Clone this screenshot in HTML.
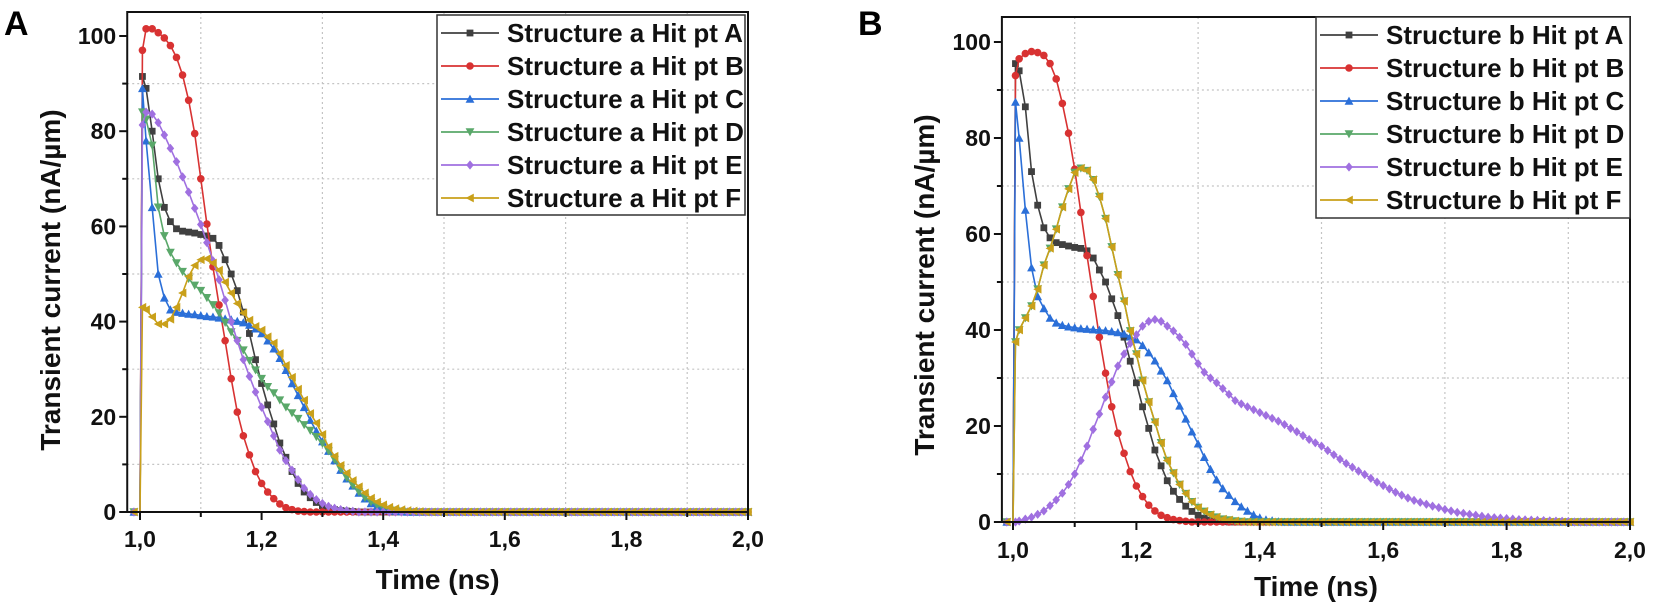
<!DOCTYPE html>
<html><head><meta charset="utf-8"><style>
html,body{margin:0;padding:0;background:#fff;}
svg{display:block;font-family:"Liberation Sans",Arial,sans-serif;}
</style></head><body>
<svg id="fig" width="1658" height="608" viewBox="0 0 1658 608" xmlns="http://www.w3.org/2000/svg">
<rect width="1658" height="608" fill="#fff"/>
</svg>
<script>
// ---- shared time samples (ns) ----
const times = [0.99,1.00,1.004,
1.01,1.02,1.03,1.04,1.05,1.06,1.07,1.08,1.09,1.10,
1.11,1.12,1.13,1.14,1.15,1.16,1.17,1.18,1.19,1.20,
1.21,1.22,1.23,1.24,1.25,1.26,1.27,1.28,1.29,1.30,
1.31,1.32,1.33,1.34,1.35,1.36,1.37,1.38,1.39,1.40,
1.41,1.42,1.43,1.44,1.45,1.46,1.47,1.48,1.49,1.50,
1.51,1.52,1.53,1.54,1.55,1.56,1.57,1.58,1.59,1.60,
1.61,1.62,1.63,1.64,1.65,1.66,1.67,1.68,1.69,1.70,
1.71,1.72,1.73,1.74,1.75,1.76,1.77,1.78,1.79,1.80,
1.81,1.82,1.83,1.84,1.85,1.86,1.87,1.88,1.89,1.90,
1.91,1.92,1.93,1.94,1.95,1.96,1.97,1.98,1.99,2.00];

const xTickLabels = ["1,0","1,2","1,4","1,6","1,8","2,0"];
const xTickValues = [1.0,1.2,1.4,1.6,1.8,2.0];
const yTickValues = [0,20,40,60,80,100];
const hitPoints = ["A","B","C","D","E","F"];

// ---- Panel A series (nA/um) ----
const aHitA = [0,0,91.5, 89,80,70,64,61,59.5,59,58.8,58.6,58.3, 58,57.5,56,53,50,46.5,42,37.5,32,27, 22.5,18.5,14.5,11.5,8.5,6,4.2,3,2,1.3, 0.8,0.5,0.3,0.2,0.1,0,0,0,0,0,
0,0,0,0,0,0,0,0,0,0, 0,0,0,0,0,0,0,0,0,0, 0,0,0,0,0,0,0,0,0,0, 0,0,0,0,0,0,0,0,0,0, 0,0,0,0,0,0,0,0,0,0, 0,0,0,0,0,0,0,0,0,0];
const aHitB = [0,0,97, 101.5,101.5,100.7,99.6,98,95.5,91.8,86.5,79.5,70, 60.5,51.5,43.5,36,28,21,16,12,8.5,6, 4.2,2.8,1.7,0.9,0.5,0.2,0.1,0,0,0, 0,0,0,0,0,0,0,0,0,0,
0,0,0,0,0,0,0,0,0,0, 0,0,0,0,0,0,0,0,0,0, 0,0,0,0,0,0,0,0,0,0, 0,0,0,0,0,0,0,0,0,0, 0,0,0,0,0,0,0,0,0,0, 0,0,0,0,0,0,0,0,0,0];
const aHitC = [0,0,89, 78,64,50,45,42.5,42,41.8,41.6,41.5,41.3, 41.1,41,40.8,40.6,40.4,40.1,39.8,39.3,38.5,37.5, 36,34.3,32.3,29.8,27,24.5,22,19.3,17,14.8, 12.8,10.8,8.8,7,5.5,4,2.8,1.8,1.2,0.7,
0.4,0.2,0.1,0,0,0,0,0,0,0, 0,0,0,0,0,0,0,0,0,0, 0,0,0,0,0,0,0,0,0,0, 0,0,0,0,0,0,0,0,0,0, 0,0,0,0,0,0,0,0,0,0, 0,0,0,0,0,0,0,0,0,0];
const aHitD = [0,0,84, 82.5,77,64,58,54.5,52.3,50.5,49,47.6,46.5, 45,43.5,41.8,39.8,37.8,36,34,31.8,29.8,28, 26.3,25,23.5,22,20.8,19.6,18.3,17.1,15.8,14.4, 12.8,11,9,7.2,5.6,4.2,3,2.1,1.4,0.9,
0.5,0.3,0.15,0,0,0,0,0,0,0, 0,0,0,0,0,0,0,0,0,0, 0,0,0,0,0,0,0,0,0,0, 0,0,0,0,0,0,0,0,0,0, 0,0,0,0,0,0,0,0,0,0, 0,0,0,0,0,0,0,0,0,0];
const aHitE = [0,0,81.3, 84,83.6,81.8,79.2,76.4,73.6,70.4,67.2,63.8,60.4, 56.6,52.8,48.8,44.5,40,36,32,28.5,25.2,22, 19,16,13,10.8,8.8,6.8,5,3.7,2.6,1.8, 1.2,0.8,0.5,0.3,0.15,0,0,0,0,0,
0,0,0,0,0,0,0,0,0,0, 0,0,0,0,0,0,0,0,0,0, 0,0,0,0,0,0,0,0,0,0, 0,0,0,0,0,0,0,0,0,0, 0,0,0,0,0,0,0,0,0,0, 0,0,0,0,0,0,0,0,0,0];
const aHitF = [0,0,43, 42.5,41,39.5,39.5,40.5,43,46,49.5,51.8,53, 53.2,52.3,50.8,48.3,46,43.8,41.8,40.3,39,38.2, 36.8,35.5,33.3,30.8,28.3,25.8,23.5,20.7,18.7,16.3, 13.7,11.7,9.8,8.2,6.6,5.3,4,2.9,2.1,1.5,
1,0.7,0.5,0.3,0.2,0.1,0,0,0,0, 0,0,0,0,0,0,0,0,0,0, 0,0,0,0,0,0,0,0,0,0, 0,0,0,0,0,0,0,0,0,0, 0,0,0,0,0,0,0,0,0,0, 0,0,0,0,0,0,0,0,0,0];

// ---- Panel B series (nA/um) ----
const bHitA = [0,0,95.5, 94,86.5,73,66,61.3,59.2,58.2,57.8,57.5,57.2, 57,56.5,55,52.5,50,46.5,43,38.5,33.5,29, 24,19.5,15,11.7,8.6,6.4,4.7,3.3,2.2,1.4, 0.8,0.4,0.2,0.1,0,0,0,0,0,0,
0,0,0,0,0,0,0,0,0,0, 0,0,0,0,0,0,0,0,0,0, 0,0,0,0,0,0,0,0,0,0, 0,0,0,0,0,0,0,0,0,0, 0,0,0,0,0,0,0,0,0,0, 0,0,0,0,0,0,0,0,0,0];
const bHitB = [0,0,93, 96.5,97.6,98,97.8,97.2,95.5,92.3,87.2,81,73.5, 64.5,55.5,47,38.5,31,24,18.5,14.3,10.5,7.5, 5.3,3.5,2.3,1.4,0.9,0.5,0.3,0.15,0,0, 0,0,0,0,0,0,0,0,0,0,
0,0,0,0,0,0,0,0,0,0, 0,0,0,0,0,0,0,0,0,0, 0,0,0,0,0,0,0,0,0,0, 0,0,0,0,0,0,0,0,0,0, 0,0,0,0,0,0,0,0,0,0, 0,0,0,0,0,0,0,0,0,0];
const bHitC = [0,0,87.5, 80,65,53,47,44.5,42.5,41.5,41,40.7,40.5, 40.3,40.2,40.1,40,39.9,39.7,39.5,39.2,38.6,38, 36.8,35.3,33.6,31.5,29.5,26.8,24.2,21.5,18.8,16.3, 13.5,11,8.8,7,5.6,4.3,3.2,2.3,1.5,0.9,
0.5,0.3,0.1,0,0,0,0,0,0,0, 0,0,0,0,0,0,0,0,0,0, 0,0,0,0,0,0,0,0,0,0, 0,0,0,0,0,0,0,0,0,0, 0,0,0,0,0,0,0,0,0,0, 0,0,0,0,0,0,0,0,0,0];
const bHitD = [0,0,37.5, 40,42.5,45,48.5,53.5,57,61,65.6,69.4,72.8, 73.7,73.2,71.3,67.8,63.2,57.3,51.5,46,39.8,35, 29.5,25,20.8,16.5,12.8,10.2,7.8,5.9,4.2,3, 2.2,1.5,1,0.6,0.4,0.2,0.1,0,0,0,
0,0,0,0,0,0,0,0,0,0, 0,0,0,0,0,0,0,0,0,0, 0,0,0,0,0,0,0,0,0,0, 0,0,0,0,0,0,0,0,0,0, 0,0,0,0,0,0,0,0,0,0, 0,0,0,0,0,0,0,0,0,0];
const bHitE = [0,0,0, 0.2,0.6,1,1.6,2.3,3.4,4.6,6,7.8,10, 12.8,15.8,19.3,22.5,26,29.2,32.5,35,37.2,39, 40.8,41.8,42.2,41.8,40.8,39.8,38.5,37,35,33, 31.2,30,29,27.8,26.6,25.3,24.6,24,23.4,22.8,
22.2,21.6,21,20.3,19.5,18.8,18,17.2,16.5,15.8, 14.9,14,13.1,12.2,11.4,10.6,9.9,9.1,8.3,7.6, 6.9,6.2,5.6,5,4.5,4.1,3.7,3.3,3,2.6, 2.3,2,1.8,1.6,1.4,1.2,1,0.9,0.8,0.7, 0.6,0.5,0.45,0.4,0.35,0.3,0.25,0.2,0.15,0.1, 0,0,0,0,0,0,0,0,0,0];
const bHitF = [0,0,37.5, 40,42.5,45,48.5,53.5,57,61,65.6,69.4,72.8, 73.7,73.2,71.3,67.8,63.2,57.3,51.5,46,39.8,35, 29.5,25,20.8,16.5,12.8,10.2,7.8,5.9,4.2,3, 2.2,1.5,1,0.6,0.4,0.2,0.1,0,0,0,
0,0,0,0,0,0,0,0,0,0, 0,0,0,0,0,0,0,0,0,0, 0,0,0,0,0,0,0,0,0,0, 0,0,0,0,0,0,0,0,0,0, 0,0,0,0,0,0,0,0,0,0, 0,0,0,0,0,0,0,0,0,0];

const NS = "http://www.w3.org/2000/svg";
const svg = document.getElementById("fig");
const colors = ["#404040","#d83232","#2b6fd8","#5aa86a","#a070e0","#c9a01a"];
const shapes = ["square","circle","up","down","diamond","left"];

function el(tag, attrs, parent){
  const e = document.createElementNS(NS, tag);
  for (const k in attrs) e.setAttribute(k, attrs[k]);
  (parent||svg).appendChild(e);
  return e;
}
function marker(shape, x, y, c, parent){
  const s = 3.8;
  let e;
  if (shape==="square") e = el("rect",{x:x-s+0.4,y:y-s+0.4,width:2*s-0.8,height:2*s-0.8,fill:c},parent);
  else if (shape==="circle") e = el("circle",{cx:x,cy:y,r:s,fill:c},parent);
  else {
    let p;
    if (shape==="up") p=[[x,y-s-0.6],[x+s+0.6,y+s],[x-s-0.6,y+s]];
    else if (shape==="down") p=[[x,y+s+0.6],[x+s+0.6,y-s],[x-s-0.6,y-s]];
    else if (shape==="left") p=[[x-s-0.6,y],[x+s,y-s-0.6],[x+s,y+s+0.6]];
    else p=[[x,y-s-0.8],[x+s,y],[x,y+s+0.8],[x-s,y]];
    e = el("polygon",{points:p.map(q=>q.join(",")).join(" "),fill:c},parent);
  }
  return e;
}

function drawPanel(cfg, seriesList){
  const g = el("g",{});
  
  
  const X = t => cfg.x1 + (t-1.0)*(cfg.x2-cfg.x1)/1.0;
  const Y = v => cfg.y0 - v*cfg.pxPerUnit;
  const L = X(cfg.xmin), R = X(2.0), T = cfg.top, B = cfg.y0;
  const grid = el("g",{},g);
  
  
  for (let v=10; v<=100; v+=20){
    el("line",{x1:L,x2:R,y1:Y(v),y2:Y(v),stroke:"#c4c4c4","stroke-width":1.2,"stroke-dasharray":"2,3"},grid);
  }
  for (let t=1.1; t<2.0; t+=0.2){
    el("line",{x1:X(t),x2:X(t),y1:T,y2:B,stroke:"#c4c4c4","stroke-width":1.2,"stroke-dasharray":"2,3"},grid);
  }
  seriesList.forEach((vals, si) => {
    const sg = el("g",{},g);
    
    
    const n = Math.min(vals.length, times.length);
    let d = "";
    for (let i=0;i<n;i++) d += (i?"L":"M")+X(times[i]).toFixed(2)+","+Y(vals[i]).toFixed(2);
    el("path",{d:d,fill:"none",stroke:colors[si],"stroke-width":1.6,"stroke-linejoin":"round"},sg);
    for (let i=0;i<n;i++){
      if (i===1) continue;
      marker(shapes[si], X(times[i]), Y(vals[i]), colors[si], sg);
    }
  });
  const fr = el("rect",{x:L,y:T,width:R-L,height:B-T,fill:"none",stroke:"#111","stroke-width":2},g);
  
  
  const ya = el("g",{},g);
  
  
  for (let v=10; v<=100; v+=20) el("line",{x1:L-5,x2:L,y1:Y(v),y2:Y(v),stroke:"#111","stroke-width":2},ya);
  yTickValues.forEach(v => {
    el("line",{x1:L-8,x2:L,y1:Y(v),y2:Y(v),stroke:"#111","stroke-width":2},ya);
    const tx = el("text",{x:L-11,y:Y(v)+8,"text-anchor":"end","font-size":23,"font-weight":"bold",fill:"#111"},ya);
    tx.textContent = String(v);
    
    
  });
  const xa = el("g",{},g);
  
  
  for (let t=1.1; t<2.0; t+=0.2) el("line",{x1:X(t),x2:X(t),y1:B,y2:B+5,stroke:"#111","stroke-width":2},xa);
  xTickValues.forEach((t,i) => {
    el("line",{x1:X(t),x2:X(t),y1:B,y2:B+8,stroke:"#111","stroke-width":2},xa);
    const tx = el("text",{x:X(t),y:cfg.xLabelY,"text-anchor":"middle","font-size":23,"font-weight":"bold",fill:"#111"},xa);
    tx.textContent = xTickLabels[i];
    
    
  });
  const yt = el("text",{x:0,y:0,transform:"translate("+cfg.yTitleX+","+cfg.yTitleY+") rotate(-90)","text-anchor":"middle","font-size":28,"font-weight":"bold",fill:"#111"},g);
  yt.textContent = "Transient current (nA/\u00B5m)";
  
  
  const xt = el("text",{x:(L+R)/2,y:cfg.xTitleY,"text-anchor":"middle","font-size":28,"font-weight":"bold",fill:"#111"},g);
  xt.textContent = "Time (ns)";
  
  
  const pl = el("text",{x:cfg.tagX,y:cfg.tagY,"font-size":34,"font-weight":"bold",fill:"#000"},g);
  pl.textContent = cfg.tag;
  
  
  const lg = el("g",{},g);
  
  
  el("rect",{x:cfg.lx1,y:cfg.ly1,width:cfg.lx2-cfg.lx1,height:cfg.ly2-cfg.ly1,fill:"#fff",stroke:"#333","stroke-width":1.5},lg);
  hitPoints.forEach((h,i) => {
    const cy = cfg.ly1 + 18 + i*33;
    const en = el("g",{},lg);
    
    
    el("line",{x1:cfg.lx1+4,x2:cfg.lx1+62,y1:cy,y2:cy,stroke:colors[i],"stroke-width":1.8},en);
    marker(shapes[i], cfg.lx1+33, cy, colors[i], en);
    const tx = el("text",{x:cfg.lx1+70,y:cy+9,"font-size":26,"font-weight":"bold",fill:"#111"},en);
    tx.textContent = "Structure "+cfg.struct+" Hit pt "+h;
  });
}

drawPanel({id:"panel-a",tag:"A",tagX:4,tagY:35,struct:"a",x1:140,x2:748,xmin:0.979,top:12,y0:512,pxPerUnit:4.76,
  xLabelY:547,yTitleX:60,yTitleY:280,xTitleY:589,lx1:437,lx2:745,ly1:15,ly2:215},
  [aHitA,aHitB,aHitC,aHitD,aHitE,aHitF]);
drawPanel({id:"panel-b",tag:"B",tagX:858,tagY:35,struct:"b",x1:1013,x2:1630,xmin:0.982,top:17,y0:522,pxPerUnit:4.8,
  xLabelY:558,yTitleX:934,yTitleY:285,xTitleY:596,lx1:1316,lx2:1630,ly1:17,ly2:218},
  [bHitA,bHitB,bHitC,bHitD,bHitE,bHitF]);
</script>
</body></html>
